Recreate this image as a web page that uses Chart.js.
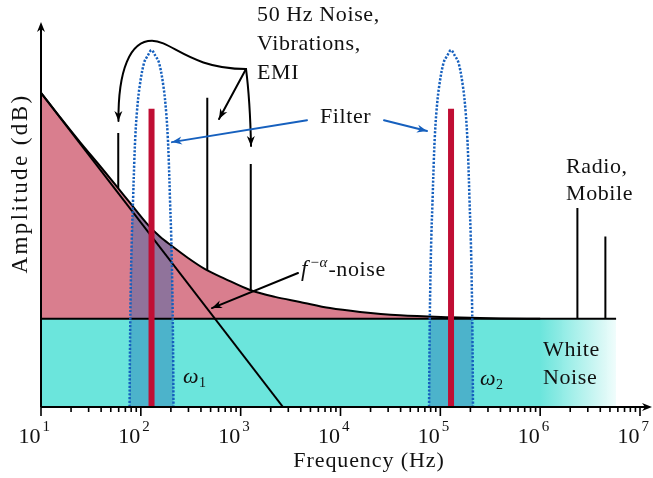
<!DOCTYPE html>
<html>
<head>
<meta charset="utf-8">
<script src="https://cdn.jsdelivr.net/npm/chart.js@4/dist/chart.umd.min.js"></script>
<style>
  html, body { margin: 0; padding: 0; background: #ffffff; }
  canvas { display: block; }
</style>
</head>
<body>
<canvas id="spectrum" width="653" height="478"></canvas>
<script>
// ---- Spectrum data (frequency in Hz, amplitude in arbitrary dB units 0..100) ----

// 1/f noise envelope
const flickerFreq = [10, 15.5, 24.6, 39, 55, 78, 118, 156, 205, 297, 440, 697, 1240, 2210, 3930, 7850, 15700, 39400, 125000, 396000, 1000000];
const flickerAmp  = [81.6, 75.3, 68.8, 62.6, 57.9, 53.0, 47.3, 44.2, 41.8, 38.7, 35.8, 33.3, 30.4, 28.6, 27.3, 25.7, 24.7, 23.8, 23.3, 23.0, 22.9];

// white-noise floor
const floorFreq = [10, 5760000];
const floorAmp  = [22.9, 22.9];

// pure f^-alpha asymptote
const slopeFreq = [10, 2655];
const slopeAmp  = [81.6, 0];

// interference lines (mains / vibration / EMI, radio / mobile)
const spikeFreq = [59.4, 463, 1262, 2360000, 4500000];
const spikeBase = [56.9, 35.5, 30.3, 22.9, 22.9];
const spikeTop  = [71.2, 80.3, 63.1, 51.7, 44.3];

// modulated signal carriers
const carrierFreq = [128, 128000];
const carrierBase = [0, 0];
const carrierTop  = [77.5, 77.5];

// band-pass filter windows
const filter1Freq = [77.1, 77.7, 78.9, 81.1, 83.6, 86.1, 88.0, 91.2, 97.1, 107.7, 118.1, 128, 138.7, 152.2, 168.8, 179.6, 186.2, 190.4, 196.0, 202.0, 207.6, 210.9, 212.3];
const filter2Freq = [77100, 77700, 78900, 81100, 83600, 86100, 88000, 91200, 97100, 107700, 118100, 128000, 138700, 152200, 168800, 179600, 186200, 190400, 196000, 202000, 207600, 210900, 212300];
const filterAmp   = [0, 12.2, 27.8, 43.4, 53.8, 64.2, 70.1, 76.4, 83.1, 89.4, 91.4, 92.7, 91.4, 89.4, 83.1, 76.4, 70.1, 64.2, 53.8, 43.4, 27.8, 12.2, 0];

// axis ticks: decade exponents and minor multipliers
const decadeExps = [1, 2, 3, 4, 5, 6, 7];
const minorMults = [2, 3, 4, 5, 6, 7, 8, 9];

// white-noise fade-out range
const fadeStart = 1000000;
const fadeEnd = 7000000;

// ---- annotations, placed in data coordinates [Hz, amplitude] ----
const emiLabel = { f: 1460, v: [100.3, 92.7, 85.2], lines: ['50 Hz Noise,', 'Vibrations,', 'EMI'] };
const emiArrows = [
  [[1131, 87.8], [311, 87.8], [205, 95.1], [129.4, 95.1], [77.9, 95.1], [59.1, 87.5], [59.7, 74.3]],
  [[1131, 87.8], [607, 74.8]],
  [[1131, 87.8], [1241, 79.7], [1270, 67.8]]
];
const filterLabel = { f: 6234, v: 73.8, text: 'Filter' };
const filterArrows = [
  [[4618, 74.5], [205, 68.8]],
  [[27290, 74.5], [73560, 71.7]]
];
const radioLabel = { f: 1815000, v: [60.9, 53.8], lines: ['Radio,', 'Mobile'] };
const whiteLabel = { f: 1068000, v: [13.2, 6.0], lines: ['White', 'Noise'] };
const slopeLabel = { f: 4023, v: 34.0 };
const slopeArrow = [[3753, 34.8], [516, 25.7]];
const omegaLabels = [ { f: 264.5, v: 6.2, sub: '1' }, { f: 249700, v: 5.7, sub: '2' } ];

// ---- colours ----
const CYAN = 'rgb(107,229,220)';
const CYAN_CLEAR = 'rgba(107,229,220,0)';
const PINK = 'rgb(217,126,142)';
const RED = 'rgb(192,14,52)';
const BLUE = 'rgb(22,96,190)';
const OVERLAY = 'rgba(25,97,176,0.38)';
const INK = '#111111';
const SERIF = '"Liberation Serif", "DejaVu Serif", serif';

const zip = (xs, ys) => xs.map((x, i) => ({ x, y: ys[i] }));
const verticals = (xs, lo, hi) => xs.flatMap((x, i) => [{ x, y: lo[i] }, { x, y: hi[i] }, { x, y: null }]);

function whiteNoiseFill(c) {
  const chart = c.chart;
  if (!chart.chartArea) return CYAN;
  const xs = chart.scales.x;
  const g = chart.ctx.createLinearGradient(xs.getPixelForValue(fadeStart), 0, xs.getPixelForValue(fadeEnd), 0);
  g.addColorStop(0, CYAN);
  g.addColorStop(1, CYAN_CLEAR);
  return g;
}

const IDX = { carriers: 0, filter1: 1, filter2: 2, spikes: 3, slope: 4, flicker: 5, floor: 6 };

const datasets = [
  { label: 'Carriers', data: verticals(carrierFreq, carrierBase, carrierTop), borderColor: RED, borderWidth: 6, borderCapStyle: 'butt', fill: false, order: 1 },
  { label: 'Filter 1', data: zip(filter1Freq, filterAmp), borderColor: BLUE, borderWidth: 2.5, borderDash: [2.2, 1.6], tension: 0.35, fill: false, order: 2 },
  { label: 'Filter 2', data: zip(filter2Freq, filterAmp), borderColor: BLUE, borderWidth: 2.5, borderDash: [2.2, 1.6], tension: 0.35, fill: false, order: 2 },
  { label: 'Interference', data: verticals(spikeFreq, spikeBase, spikeTop), borderColor: '#000', borderWidth: 2, borderCapStyle: 'butt', fill: false, order: 3 },
  { label: 'f^-alpha', data: zip(slopeFreq, slopeAmp), borderColor: '#000', borderWidth: 2, fill: false, order: 4 },
  { label: '1/f noise', data: zip(flickerFreq, flickerAmp), borderColor: '#000', borderWidth: 2, cubicInterpolationMode: 'monotone', fill: IDX.floor, backgroundColor: PINK, order: 5 },
  { label: 'White noise', data: zip(floorFreq, floorAmp), borderColor: '#000', borderWidth: 2, fill: 'origin', backgroundColor: whiteNoiseFill, order: 6 }
];

// ---- drawing helpers ----
function setFont(ctx, size, italic, spacing) {
  ctx.font = (italic ? 'italic ' : '') + size + 'px ' + SERIF;
  ctx.letterSpacing = (spacing || 0) + 'px';
}
function write(ctx, s, x, y, size, opts) {
  opts = opts || {};
  setFont(ctx, size, opts.italic, opts.ls);
  ctx.textAlign = opts.align || 'left';
  ctx.textBaseline = 'alphabetic';
  ctx.fillStyle = INK;
  ctx.fillText(s, x, y);
  return ctx.measureText(s).width;
}
function head(ctx, tip, ang, len, half) {
  const c = Math.cos(ang), s = Math.sin(ang);
  const bx = tip[0] - c * len, by = tip[1] - s * len;
  const nx = tip[0] - c * len * 0.7, ny = tip[1] - s * len * 0.7;
  ctx.beginPath();
  ctx.moveTo(tip[0], tip[1]);
  ctx.lineTo(bx - s * half, by + c * half);
  ctx.lineTo(nx, ny);
  ctx.lineTo(bx + s * half, by - c * half);
  ctx.closePath();
  ctx.fill();
}
function arrow(ctx, P, color) {
  ctx.save();
  ctx.strokeStyle = color; ctx.fillStyle = color; ctx.lineWidth = 2; ctx.lineCap = 'round';
  ctx.beginPath();
  ctx.moveTo(P[0][0], P[0][1]);
  if (P.length === 2) ctx.lineTo(P[1][0], P[1][1]);
  else if (P.length === 3) ctx.quadraticCurveTo(P[1][0], P[1][1], P[2][0], P[2][1]);
  else for (let i = 1; i + 2 < P.length; i += 3) ctx.bezierCurveTo(P[i][0], P[i][1], P[i + 1][0], P[i + 1][1], P[i + 2][0], P[i + 2][1]);
  ctx.stroke();
  const tip = P[P.length - 1], prev = P[P.length - 2];
  head(ctx, tip, Math.atan2(tip[1] - prev[1], tip[0] - prev[0]), 10, 4);
  ctx.restore();
}

const decor = {
  id: 'decor',
  // translucent pass-band shading, clipped to filter window and noise envelope
  beforeDatasetsDraw(chart) {
    const { ctx, chartArea: a } = chart;
    const env = chart.getDatasetMeta(IDX.flicker).dataset;
    env.updateControlPoints(a, 'x');
    [IDX.filter1, IDX.filter2].forEach(i => {
      const arch = chart.getDatasetMeta(i).dataset;
      arch.updateControlPoints(a, 'x');
      ctx.save();
      ctx.beginPath();
      arch.path(ctx);
      ctx.closePath();
      ctx.clip();
      const pts = env.points;
      ctx.beginPath();
      env.path(ctx);
      ctx.lineTo(pts[pts.length - 1].x, a.bottom);
      ctx.lineTo(pts[0].x, a.bottom);
      ctx.closePath();
      ctx.fillStyle = OVERLAY;
      ctx.fill();
      ctx.restore();
    });
  },
  afterDatasetsDraw(chart) {
    const { ctx, chartArea: a } = chart;
    const xs = chart.scales.x, ys = chart.scales.y;
    const P = (p) => [xs.getPixelForValue(p[0]), ys.getPixelForValue(p[1])];
    const W = chart.width;

    // axes with arrow tips
    ctx.save();
    ctx.strokeStyle = '#000'; ctx.fillStyle = '#000'; ctx.lineWidth = 2;
    ctx.beginPath();
    ctx.moveTo(a.left, a.bottom); ctx.lineTo(W - 6, a.bottom);
    ctx.moveTo(a.left, a.bottom); ctx.lineTo(a.left, a.top + 6);
    ctx.stroke();
    head(ctx, [W - 1, a.bottom], 0, 10, 4);
    head(ctx, [a.left, a.top], -Math.PI / 2, 10, 4);

    // tick marks
    ctx.lineWidth = 1.6;
    ctx.beginPath();
    decadeExps.forEach((e, k) => {
      const x = xs.getPixelForValue(Math.pow(10, e));
      ctx.moveTo(x, a.bottom); ctx.lineTo(x, a.bottom + 9);
      if (k < decadeExps.length - 1) {
        minorMults.forEach(m => {
          const xm = xs.getPixelForValue(m * Math.pow(10, e));
          ctx.moveTo(xm, a.bottom); ctx.lineTo(xm, a.bottom + 5);
        });
      }
    });
    ctx.stroke();
    ctx.restore();

    // tick labels 10^n
    decadeExps.forEach(e => {
      const x = xs.getPixelForValue(Math.pow(10, e));
      write(ctx, '10', x - 0.5, a.bottom + 35.5, 22, { align: 'right' });
      write(ctx, String(e), x + 1.5, a.bottom + 24, 15);
    });

    // axis titles
    write(ctx, 'Frequency (Hz)', a.left + 328, a.bottom + 60, 22, { align: 'center', ls: 0.9 });
    ctx.save();
    ctx.translate(a.left - 14, a.top + 161.5);
    ctx.rotate(-Math.PI / 2);
    write(ctx, 'Amplitude (dB)', 0, 0, 23, { align: 'center', ls: 2.4 });
    ctx.restore();

    // labels
    emiLabel.lines.forEach((t, i) => { const p = P([emiLabel.f, emiLabel.v[i]]); write(ctx, t, p[0], p[1], 22, { ls: 0.6 }); });
    radioLabel.lines.forEach((t, i) => { const p = P([radioLabel.f, radioLabel.v[i]]); write(ctx, t, p[0], p[1], 22, { ls: 0.6 }); });
    whiteLabel.lines.forEach((t, i) => { const p = P([whiteLabel.f, whiteLabel.v[i]]); write(ctx, t, p[0], p[1], 22, { ls: 0.6 }); });
    { const p = P([filterLabel.f, filterLabel.v]); write(ctx, filterLabel.text, p[0], p[1], 22, { ls: 0.6 }); }

    // f^{-alpha}-noise
    {
      const p = P([slopeLabel.f, slopeLabel.v]);
      let x = p[0];
      x += write(ctx, 'f', x, p[1], 23, { italic: true }) + 2;
      x += write(ctx, '\u2212\u03B1', x, p[1] - 9, 15, { italic: true }) + 1;
      write(ctx, '-noise', x, p[1], 22, { ls: 0.6 });
    }
    // omega_1, omega_2
    omegaLabels.forEach(o => {
      const p = P([o.f, o.v]);
      const w = write(ctx, '\u03C9', p[0], p[1], 22, { italic: true });
      write(ctx, o.sub, p[0] + w + 0.5, p[1] + 4, 14);
    });

    // arrows
    emiArrows.forEach(pts => arrow(ctx, pts.map(P), '#000'));
    filterArrows.forEach(pts => arrow(ctx, pts.map(P), BLUE));
    arrow(ctx, slopeArrow.map(P), '#000');
  }
};

new Chart(document.getElementById('spectrum'), {
  type: 'line',
  data: { datasets },
  options: {
    responsive: false,
    animation: false,
    events: [],
    layout: { padding: { left: 41, right: 13, top: 22, bottom: 71 } },
    elements: { point: { radius: 0 } },
    scales: {
      x: { type: 'logarithmic', min: 10, max: 1e7, display: false },
      y: { type: 'linear', min: 0, max: 100, display: false }
    },
    plugins: {
      legend: { display: false },
      tooltip: { enabled: false },
      filler: { drawTime: 'beforeDatasetsDraw' }
    }
  },
  plugins: [decor]
});
</script>
</body>
</html>
